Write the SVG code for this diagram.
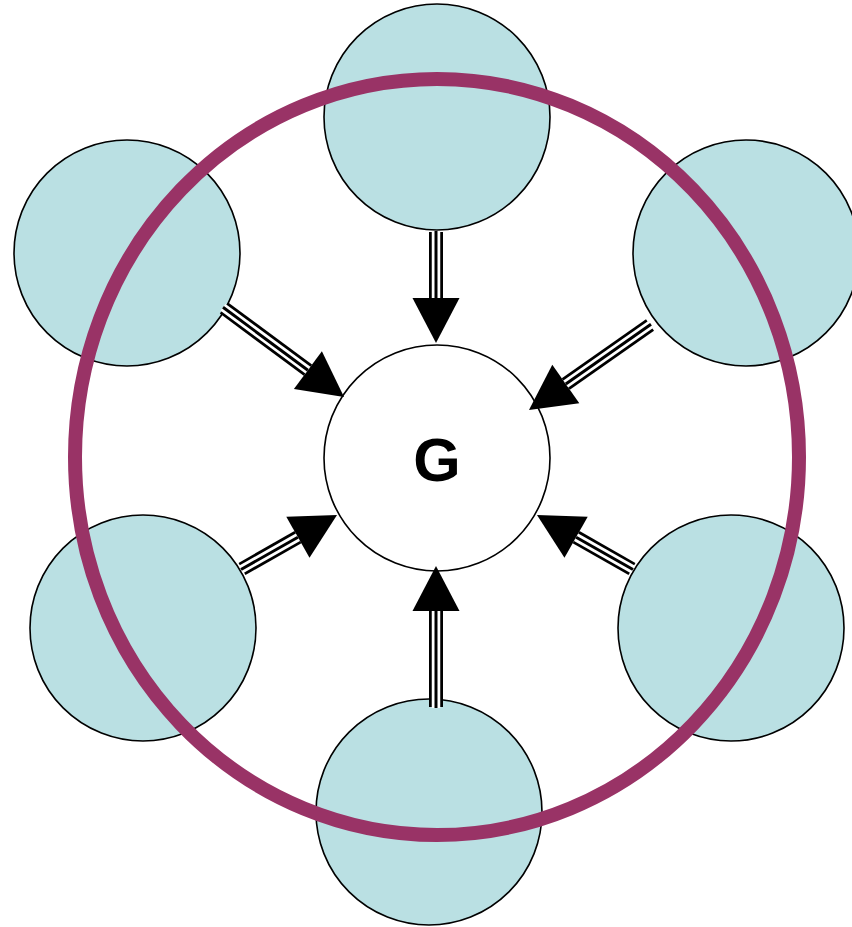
<svg xmlns="http://www.w3.org/2000/svg" width="852" height="927" viewBox="0 0 852 927">
  <style>
    .sat { fill: #BAE0E3; stroke: #000; stroke-width: 1.6; }
    .hub { fill: #FFFFFF; stroke: #000; stroke-width: 1.6; }
    .s1 { fill: none; stroke: #000; stroke-width: 14; }
    .s2 { fill: none; stroke: #FFF; stroke-width: 8.5; }
    .s3 { fill: none; stroke: #000; stroke-width: 3; }
    .ring { fill: none; stroke: #993366; stroke-width: 14; }
    .lbl { font-family: "Liberation Sans", Arial, sans-serif; font-weight: bold; font-size: 61px; fill: #000; text-anchor: middle; }
  </style>
  <defs>
    <marker id="head" markerUnits="userSpaceOnUse" markerWidth="46" markerHeight="48" refX="0" refY="23.5" orient="auto" overflow="visible">
      <path d="M0,0 L45,23.5 L0,47 Z" fill="#000"/>
    </marker>
  </defs>

  <g id="node-top"><circle class="sat" cx="437" cy="117" r="113"/></g>
  <g id="node-upper-left"><circle class="sat" cx="127" cy="253" r="113"/></g>
  <g id="node-upper-right"><circle class="sat" cx="746" cy="253" r="113"/></g>
  <g id="node-lower-left"><circle class="sat" cx="143" cy="628" r="113"/></g>
  <g id="node-lower-right"><circle class="sat" cx="731" cy="628" r="113"/></g>
  <g id="node-bottom"><circle class="sat" cx="429" cy="812" r="113"/></g>
  <g id="node-G"><circle class="hub" cx="437" cy="458" r="113"/></g>

  <g id="connectors">
    <g>
      <path class="s1" d="M436,232 L436,298" marker-end="url(#head)"/>
      <path class="s2" d="M436,231 L436,298"/>
      <path class="s3" d="M436,231 L436,298"/>
    </g>
    <g>
      <path class="s1" d="M436,707 L436,611" marker-end="url(#head)"/>
      <path class="s2" d="M436,708 L436,611"/>
      <path class="s3" d="M436,708 L436,611"/>
    </g>
    <g>
      <path class="s1" d="M224,308 L307.9,370.2" marker-end="url(#head)"/>
      <path class="s2" d="M223,307.3 L307.9,370.2"/>
      <path class="s3" d="M223,307.3 L307.9,370.2"/>
    </g>
    <g>
      <path class="s1" d="M650,325 L565.8,384.1" marker-end="url(#head)"/>
      <path class="s2" d="M651,324.3 L565.8,384.1"/>
      <path class="s3" d="M651,324.3 L565.8,384.1"/>
    </g>
    <g>
      <path class="s1" d="M242,569 L297.9,537.2" marker-end="url(#head)"/>
      <path class="s2" d="M241,569.5 L297.9,537.2"/>
      <path class="s3" d="M241,569.5 L297.9,537.2"/>
    </g>
    <g>
      <path class="s1" d="M632,569 L576.1,537.2" marker-end="url(#head)"/>
      <path class="s2" d="M633,569.5 L576.1,537.2"/>
      <path class="s3" d="M633,569.5 L576.1,537.2"/>
    </g>
  </g>

  <ellipse class="ring" cx="437" cy="457" rx="362" ry="378"/>
  <text class="lbl" x="437" y="481">G</text>
</svg>
